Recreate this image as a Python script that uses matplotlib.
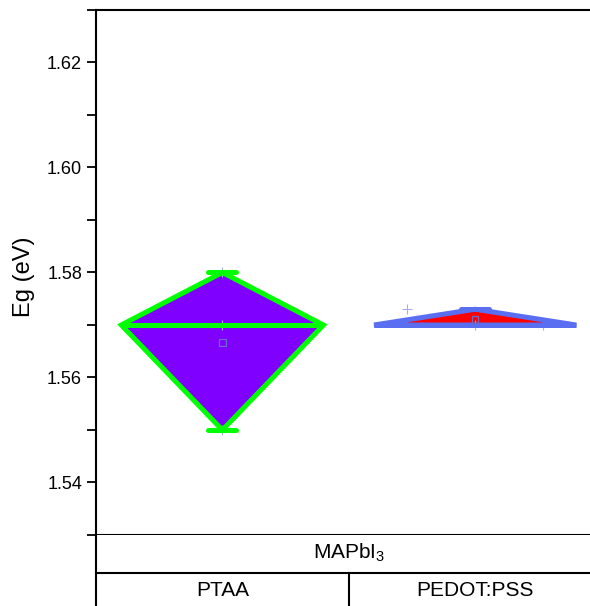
import matplotlib
matplotlib.use("Agg")
import matplotlib.pyplot as plt
from matplotlib.patches import Polygon
import numpy as np

plt.rcParams['font.family'] = ['Liberation Sans', 'DejaVu Sans']
plt.rcParams['mathtext.fontset'] = 'custom'
plt.rcParams['mathtext.rm'] = 'Liberation Sans'
plt.rcParams['mathtext.it'] = 'Liberation Sans:italic'

# ---- data ----
categories = ['PTAA', 'PEDOT:PSS']
group_label = r'MAPbI$_\mathregular{3}$'
box_top = [1.580, 1.573]
box_bottom = [1.550, 1.570]
median = [1.570, 1.570]
whisker_top = [1.580, 1.573]
whisker_bottom = [1.550, 1.570]
mean = [1.5667, 1.571]
points = [[1.550, 1.570, 1.580], [1.573, 1.570, 1.570]]
y_ticks = [1.54, 1.56, 1.58, 1.60, 1.62]

fill_colors = ['#8000FF', '#FF0000']
edge_colors = ['#00FF00', '#5A6EF2']
point_offsets = [[0.0, 0.0, 0.0], [-0.27, 0.0, 0.27]]

W, H = 590, 606
fig = plt.figure(figsize=(W / 100, H / 100), dpi=100)

left_px, top_px, bot_px = 96, 10, 535
right_px = 601.5
ax = fig.add_axes([left_px / W, 1 - bot_px / H, (right_px - left_px) / W, (bot_px - top_px) / H])
ax.set_xlim(0.5, 2.5)
ax.set_ylim(1.53, 1.63)

hw = 0.4
cap_hw = 0.055
lw = 3.6
for i, cat in enumerate(categories):
    x = i + 1
    poly = Polygon([(x - hw, median[i]), (x, box_top[i]), (x + hw, median[i]), (x, box_bottom[i])],
                   closed=True, facecolor=fill_colors[i], edgecolor='none', zorder=3)
    ax.add_patch(poly)
    # data points (between fill and outline)
    ax.scatter([x + o for o in point_offsets[i]], points[i], marker='+', s=60,
               color='#A8AEF0', linewidths=0.8, zorder=3.5)
    outline = Polygon([(x - hw, median[i]), (x, box_top[i]), (x + hw, median[i]), (x, box_bottom[i])],
                      closed=True, facecolor='none', edgecolor=edge_colors[i],
                      linewidth=lw, joinstyle='miter', zorder=4)
    ax.add_patch(outline)
    ax.plot([x - hw, x + hw], [median[i], median[i]], color=edge_colors[i], lw=lw,
            solid_capstyle='butt', zorder=4)
    # whiskers
    ax.plot([x, x], [box_top[i], whisker_top[i]], color=edge_colors[i], lw=lw, zorder=4)
    ax.plot([x, x], [box_bottom[i], whisker_bottom[i]], color=edge_colors[i], lw=lw, zorder=4)
    for wv in (whisker_top[i], whisker_bottom[i]):
        ax.plot([x - cap_hw, x + cap_hw], [wv, wv], color=edge_colors[i], lw=lw,
                solid_capstyle='round', zorder=4)
    # mean
    ax.scatter([x], [mean[i]], marker='s', s=22, facecolor='none',
               edgecolor='#6A6AC8', linewidths=0.9, zorder=6)

ax.set_yticks(y_ticks)
ax.set_yticklabels([f'{v:.2f}' for v in y_ticks])
ax.yaxis.set_minor_locator(matplotlib.ticker.MultipleLocator(0.01))
ax.tick_params(axis='y', which='major', direction='out', length=6.5, width=1.3,
               labelsize=13, pad=3.5)
ax.tick_params(axis='y', which='minor', direction='out', length=6.5, width=1.3)
ax.set_xticks([])
for s in ['left', 'top', 'bottom']:
    ax.spines[s].set_linewidth(1.5)
ax.spines['right'].set_visible(False)

fig.text(24 / W, 1 - 277 / H, 'Eg (eV)', rotation=90, ha='center', va='center', fontsize=17)

# ---- category table below ----
tab = fig.add_axes([left_px / W, 0, (right_px - left_px) / W, (H - bot_px) / H])
tab.set_xlim(0.5, 2.5)
tab.set_ylim(H, bot_px)
tab.set_xticks([])
tab.set_yticks([])
for s in ['top', 'right', 'bottom']:
    tab.spines[s].set_visible(False)
tab.spines['left'].set_linewidth(1.5)
tab.plot([0.5, 2.5], [573, 573], color='black', lw=1.5, clip_on=False)
tab.plot([1.5, 1.5], [573, H], color='black', lw=1.5, clip_on=False)
tab.text(1.5, 553, group_label, ha='center', va='center', fontsize=15)
for i, cat in enumerate(categories):
    tab.text(i + 1, 591, cat, ha='center', va='center', fontsize=15)

fig.savefig('out.png', dpi=100)
